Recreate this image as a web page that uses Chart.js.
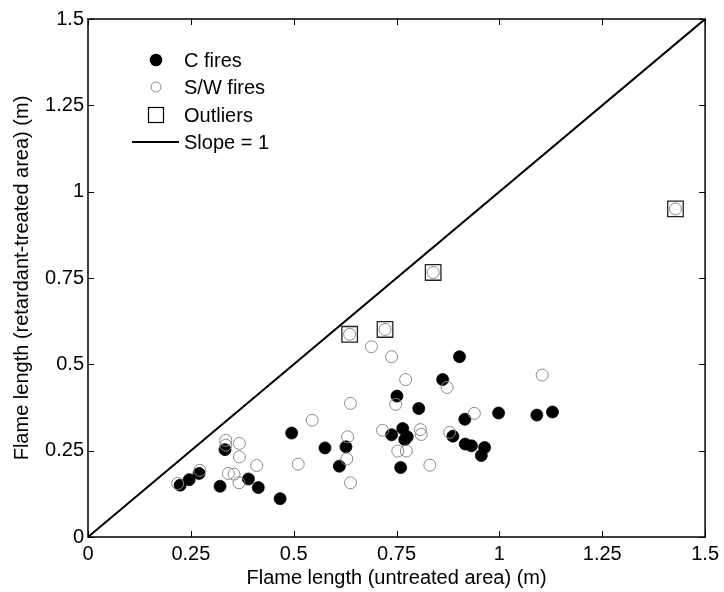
<!DOCTYPE html>
<html>
<head>
<meta charset="utf-8">
<script src="https://cdn.jsdelivr.net/npm/chart.js@4"></script>
<style>
  html, body { margin: 0; padding: 0; background: #fff; }
  #wrap { width: 724px; height: 592px; }
</style>
</head>
<body>
<div id="wrap"><canvas id="myChart" width="724" height="592"></canvas></div>
<script>
// C fires (filled markers)
const cFiresX = [0.224, 0.246, 0.270, 0.321, 0.333, 0.390, 0.414, 0.467, 0.495, 0.576,
                 0.611, 0.627, 0.751, 0.760, 0.765, 0.738, 0.776, 0.770, 0.804, 0.862,
                 0.903, 0.887, 0.916, 0.917, 0.932, 0.964, 0.956, 0.998, 1.091, 1.129];
const cFiresY = [0.150, 0.166, 0.184, 0.147, 0.253, 0.168, 0.143, 0.111, 0.301, 0.258,
                 0.205, 0.261, 0.408, 0.201, 0.314, 0.296, 0.290, 0.282, 0.372, 0.456,
                 0.522, 0.292, 0.341, 0.269, 0.264, 0.259, 0.236, 0.359, 0.353, 0.362];

// S/W fires (open markers)
const swFiresX = [0.218, 0.272, 0.335, 0.335, 0.368, 0.368, 0.341, 0.355, 0.367, 0.410,
                  0.511, 0.545, 0.689, 0.738, 0.772, 0.873, 1.104, 0.748, 0.638, 0.939,
                  0.716, 0.808, 0.810, 0.879, 0.631, 0.629, 0.638, 0.753, 0.774, 0.831,
                  0.636, 0.722, 0.839, 1.428];
const swFiresY = [0.155, 0.193, 0.280, 0.266, 0.271, 0.232, 0.184, 0.182, 0.157, 0.207,
                  0.211, 0.338, 0.551, 0.522, 0.456, 0.433, 0.469, 0.384, 0.387, 0.358,
                  0.309, 0.311, 0.297, 0.303, 0.290, 0.226, 0.157, 0.249, 0.249, 0.208,
                  0.587, 0.601, 0.766, 0.950];

// outliers (boxed)
const outlierX = [0.636, 0.722, 0.839, 1.428];
const outlierY = [0.587, 0.601, 0.766, 0.950];

// 1:1 line
const slopeX = [0, 1.5];
const slopeY = [0, 1.5];

const tickValues = [0, 0.25, 0.5, 0.75, 1, 1.25, 1.5];
const tickLabels = ['0', '0.25', '0.5', '0.75', '1', '1.25', '1.5'];

const legendLabels = ['C fires', 'S/W fires', 'Outliers', 'Slope = 1'];

const FONT = '"Liberation Sans", Arial, sans-serif';
const pts = (xs, ys) => xs.map((x, i) => ({ x: x, y: ys[i] }));

// MATLAB style box with inward ticks + legend in the plot area
const boxPlugin = {
  id: 'boxPlugin',
  afterDraw(chart) {
    const ctx = chart.ctx;
    const a = chart.chartArea;
    const xs = chart.scales.x, ys = chart.scales.y;
    ctx.save();
    ctx.strokeStyle = '#000';
    ctx.lineWidth = 1.5;
    ctx.strokeRect(a.left, a.top, a.right - a.left, a.bottom - a.top);
    ctx.lineWidth = 1;
    const tl = 6;
    ctx.beginPath();
    tickValues.forEach(v => {
      const px = Math.round(xs.getPixelForValue(v)) + 0.5;
      ctx.moveTo(px, a.bottom); ctx.lineTo(px, a.bottom - tl);
      ctx.moveTo(px, a.top); ctx.lineTo(px, a.top + tl);
      const py = Math.round(ys.getPixelForValue(v)) + 0.5;
      ctx.moveTo(a.left, py); ctx.lineTo(a.left + tl, py);
      ctx.moveTo(a.right, py); ctx.lineTo(a.right - tl, py);
    });
    ctx.stroke();

    // legend
    const mx = 156, tx = 184;
    const rows = [60, 87, 115, 142];
    ctx.font = '20px ' + FONT;
    ctx.fillStyle = '#000';
    ctx.textBaseline = 'middle';
    ctx.textAlign = 'left';
    legendLabels.forEach((t, i) => ctx.fillText(t, tx, rows[i] + 1));

    ctx.beginPath();
    ctx.arc(mx, rows[0], 6.3, 0, Math.PI * 2);
    ctx.fill();

    ctx.beginPath();
    ctx.strokeStyle = '#8a8a8a';
    ctx.lineWidth = 1;
    ctx.arc(mx, rows[1], 5, 0, Math.PI * 2);
    ctx.stroke();

    ctx.strokeStyle = '#000';
    ctx.lineWidth = 1.2;
    ctx.strokeRect(mx - 7.5, rows[2] - 7.5, 15, 15);

    ctx.lineWidth = 2;
    ctx.beginPath();
    ctx.moveTo(132, rows[3]);
    ctx.lineTo(179, rows[3]);
    ctx.stroke();
    ctx.restore();
  }
};

const ctx = document.getElementById('myChart').getContext('2d');
new Chart(ctx, {
  type: 'scatter',
  data: {
    datasets: [
      {
        label: 'S/W fires',
        data: pts(swFiresX, swFiresY),
        pointRadius: 6,
        pointBorderWidth: 1,
        pointBorderColor: '#8a8a8a',
        pointBackgroundColor: 'rgba(0,0,0,0)',
        order: 1
      },
      {
        label: 'C fires',
        data: pts(cFiresX, cFiresY),
        pointRadius: 6,
        pointBorderWidth: 0.8,
        pointBorderColor: '#000',
        pointBackgroundColor: '#000',
        order: 2
      },
      {
        label: 'Outliers',
        data: pts(outlierX, outlierY),
        pointStyle: 'rect',
        pointRadius: 11,
        pointBorderWidth: 1.3,
        pointBorderColor: '#222',
        pointBackgroundColor: 'rgba(0,0,0,0)',
        order: 3
      },
      {
        type: 'line',
        label: 'Slope = 1',
        data: pts(slopeX, slopeY),
        borderColor: '#000',
        borderWidth: 2,
        pointRadius: 0,
        fill: false,
        order: 4
      }
    ]
  },
  options: {
    responsive: false,
    animation: false,
    events: [],
    layout: { padding: { top: 19, right: 17, left: 0, bottom: 0 } },
    plugins: {
      legend: { display: false },
      tooltip: { enabled: false }
    },
    scales: {
      x: {
        type: 'linear',
        min: 0,
        max: 1.5,
        afterBuildTicks: s => { s.ticks = tickValues.map(v => ({ value: v })); },
        afterFit: s => { s.height = 55; },
        grid: { display: false, drawTicks: false },
        border: { display: false },
        ticks: {
          color: '#000',
          font: { family: FONT, size: 20 },
          padding: 5,
          maxRotation: 0,
          callback: (v, i) => tickLabels[i]
        },
        title: {
          display: true,
          text: 'Flame length (untreated area) (m)',
          color: '#000',
          font: { family: FONT, size: 20 },
          padding: { top: 0, bottom: 2 }
        }
      },
      y: {
        type: 'linear',
        min: 0,
        max: 1.5,
        afterBuildTicks: s => { s.ticks = tickValues.map(v => ({ value: v })); },
        afterFit: s => { s.width = 88; },
        grid: { display: false, drawTicks: false },
        border: { display: false },
        ticks: {
          color: '#000',
          font: { family: FONT, size: 20 },
          padding: 4,
          callback: (v, i) => tickLabels[i]
        },
        title: {
          display: true,
          text: 'Flame length (retardant-treated area) (m)',
          color: '#000',
          font: { family: FONT, size: 20 },
          padding: { top: 10, bottom: 0 }
        }
      }
    }
  },
  plugins: [boxPlugin]
});
</script>
</body>
</html>
